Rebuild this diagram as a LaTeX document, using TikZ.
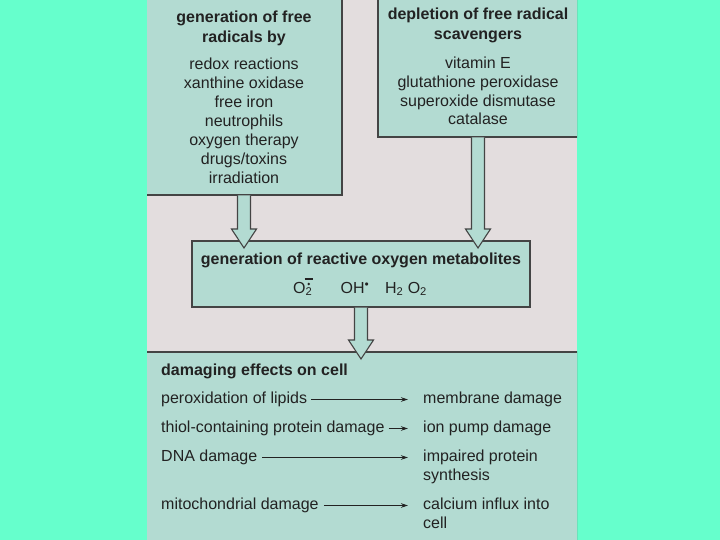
\documentclass[tikz,border=0pt]{standalone}
\usepackage{fontspec}
\setmainfont{Liberation Sans}
\usetikzlibrary{arrows.meta,calc}
\definecolor{aqua}{HTML}{66FFCC}
\definecolor{pagec}{HTML}{E3DDDE}
\definecolor{boxc}{HTML}{B3DBD2}
\definecolor{ink}{HTML}{222222}
\definecolor{edgec}{HTML}{444444}
\newcommand\BlkArr[2]{%
  \path[blockarrow] let \p1=(#1), \p2=(#2) in
    (\x1-6.5pt,\y1-0.5pt) -- (\x1-6.5pt,\y2+12pt) -- (\x1-12.5pt,\y2+12pt) --
    (\x1,\y2-7pt) -- (\x1+12.5pt,\y2+12pt) -- (\x1+6.5pt,\y2+12pt) -- (\x1+6.5pt,\y1-0.5pt);}
\begin{document}
\begin{tikzpicture}[x=1pt,y=-1pt,
  panel/.style={draw=edgec,line width=1.1pt,fill=boxc,inner sep=0pt,outer sep=0pt},
  txt/.style={text=ink,font=\fontsize{16}{19}\selectfont,inner sep=0pt,align=center},
  ttl/.style={txt,font=\fontsize{16}{19.5}\selectfont\bfseries},
  row/.style={text=ink,font=\fontsize{16}{19}\selectfont,inner sep=0pt,anchor=west,
    text height=11.5pt,text depth=3.5pt},
  rowttl/.style={row,font=\fontsize{16}{19}\selectfont\bfseries},
  blockarrow/.style={draw=edgec,line width=1.1pt,fill=boxc,line join=miter},
  thinarrow/.style={draw=ink,line width=0.8pt,-{Stealth[length=7pt,width=4.5pt]}}]
\useasboundingbox (0,0) rectangle (720,540);
\fill[aqua] (0,0) rectangle (720,540);
\fill[pagec] (147,0) rectangle (577,540);
\begin{scope}
\clip (147,0) rectangle (577,540);
\node[panel,minimum width=196pt,minimum height=205pt] (b1) at (244,92.5) {};
\node[panel,minimum width=200pt,minimum height=147pt] (b2) at (478,63.5) {};
\node[panel,minimum width=338pt,minimum height=66pt] (b3) at (361,274) {};
\node[panel,minimum width=432pt,minimum height=198pt] (b4) at (362,451) {};
\end{scope}
% box 1
\node[ttl,anchor=north] (t1) at (244,11) {generation of free\\radicals by};
\node[txt,anchor=north] (i1) at (244,58) {redox reactions\\xanthine oxidase\\free iron\\neutrophils\\oxygen therapy\\drugs/toxins\\irradiation};
% box 2
\node[ttl,anchor=north] (t2) at (478,8) {depletion of free radical\\scavengers};
\node[txt,anchor=north,font=\fontsize{16}{18.7}\selectfont] (i2) at (478,57) {vitamin E\\glutathione peroxidase\\superoxide dismutase\\catalase};
% box 3
\node[ttl,anchor=north] (t3) at (361,253) {generation of reactive oxygen metabolites};
\node[row,anchor=west] (f1) at (293,289) {O\textsubscript{2}};
\fill[ink] ([xshift=-3.8pt,yshift=5pt]f1.east) circle (1.3pt);
\draw[ink,line width=1.2pt] ([xshift=-8pt,yshift=10pt]f1.east) -- ([xshift=0pt,yshift=10pt]f1.east);
\node[row,anchor=center] (f2) at (355,289) {OH$^{\scriptscriptstyle\bullet}$};
\node[row,anchor=center] (f3) at (406,289) {H\textsubscript{2} O\textsubscript{2}};
% block arrows
\BlkArr{b1.south}{b3.north}
\BlkArr{b2.south}{b3.north}
\BlkArr{b3.south}{b4.north}
% box 4
\node[rowttl] (t4) at (161,371.5) {damaging effects on cell};
\node[row] (l1) at (161,399.5) {peroxidation of lipids};
\node[row] (l2) at (161,428.5) {thiol-containing protein damage};
\node[row] (l3) at (161,457.5) {DNA damage};
\node[row] (l4) at (161,505.5) {mitochondrial damage};
\node[row] (r1) at (423,399.5) {membrane damage};
\node[row] (r2) at (423,428.5) {ion pump damage};
\node[row] (r3) at (423,457.5) {impaired protein};
\node[row] (r3b) at (423,476.5) {synthesis};
\node[row] (r4) at (423,505.5) {calcium influx into};
\node[row] (r4b) at (423,524.5) {cell};
\coordinate (tipx) at (408,0);
\draw[thinarrow] ([xshift=4pt]l1.east) -- (l1.east -| tipx);
\draw[thinarrow] ([xshift=4pt]l2.east) -- (l2.east -| tipx);
\draw[thinarrow] ([xshift=5pt]l3.east) -- (l3.east -| tipx);
\draw[thinarrow] ([xshift=5pt]l4.east) -- (l4.east -| tipx);
\end{tikzpicture}
\end{document}
